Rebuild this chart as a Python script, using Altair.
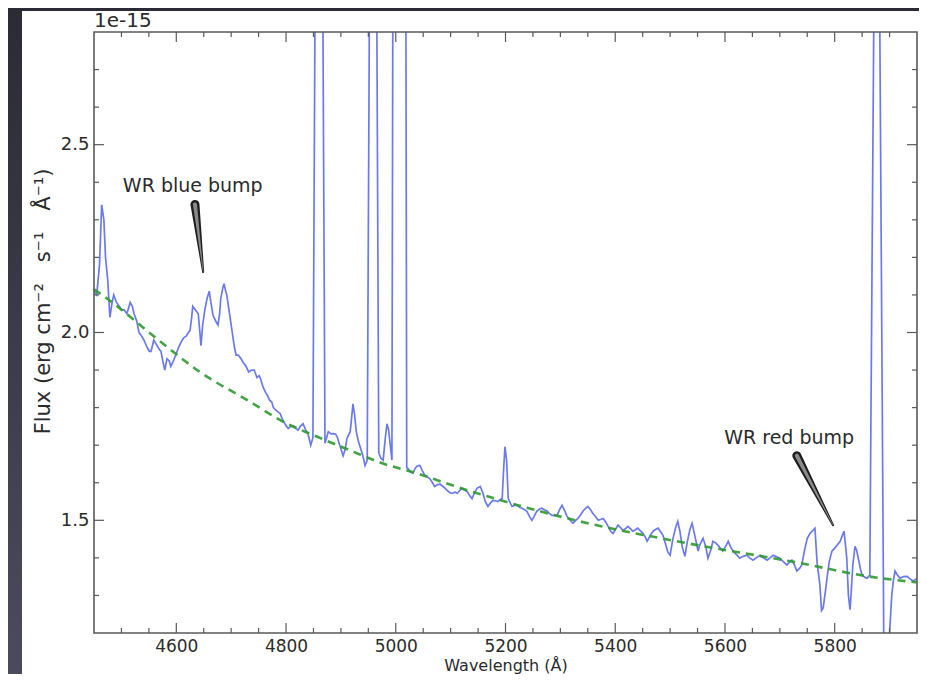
import altair as alt
import pandas as pd

# ---------------- data ----------------
lam = [4450, 4455, 4460, 4464, 4468, 4471, 4475, 4479, 4483, 4486, 4491, 4496, 4501, 4505, 4510,
       4516, 4520, 4523, 4528, 4532, 4537, 4541, 4547, 4551, 4554, 4559, 4565, 4569, 4572, 4576,
       4579, 4583, 4587, 4590, 4595, 4599, 4604, 4609, 4613, 4618, 4622, 4625, 4628, 4630, 4635,
       4640, 4643, 4645, 4648, 4652, 4656, 4660, 4663, 4667, 4672, 4676, 4679, 4681, 4685, 4687,
       4690, 4692, 4697, 4702, 4706, 4709, 4713, 4718, 4722, 4727, 4732, 4737, 4742, 4747, 4751,
       4754, 4758, 4763, 4767, 4770, 4774, 4777, 4780, 4784, 4789, 4793, 4798, 4801, 4804, 4809,
       4813, 4818, 4822, 4826, 4831, 4836, 4840, 4845, 4849, 4860, 4871, 4874, 4877, 4882, 4886,
       4890, 4893, 4898, 4904, 4908, 4911, 4915, 4917, 4920, 4922, 4925, 4928, 4932, 4935, 4940,
       4944, 4948, 4959, 4969, 4973, 4977, 4981, 4984, 4987, 4990, 4993, 5007, 5020, 5022, 5026,
       5031, 5036, 5040, 5044, 5049, 5053, 5058, 5062, 5067, 5071, 5076, 5081, 5086, 5090, 5095,
       5100, 5103, 5108, 5112, 5117, 5121, 5126, 5130, 5135, 5139, 5144, 5148, 5154, 5159, 5163,
       5168, 5172, 5177, 5182, 5186, 5190, 5194, 5196, 5199, 5202, 5205, 5209, 5212, 5217, 5221,
       5226, 5230, 5235, 5239, 5244, 5248, 5252, 5257, 5262, 5266, 5271, 5276, 5280, 5285, 5290,
       5294, 5299, 5303, 5308, 5312, 5318, 5323, 5328, 5332, 5337, 5341, 5346, 5350, 5355, 5359,
       5364, 5369, 5373, 5378, 5383, 5387, 5392, 5396, 5400, 5405, 5410, 5414, 5419, 5423, 5428,
       5432, 5437, 5441, 5446, 5450, 5455, 5458, 5464, 5469, 5474, 5478, 5482, 5487, 5491, 5496,
       5500, 5505, 5510, 5514, 5518, 5522, 5527, 5531, 5536, 5540, 5545, 5551, 5554, 5560, 5565,
       5569, 5574, 5578, 5583, 5587, 5592, 5596, 5601, 5606, 5610, 5615, 5620, 5627, 5633, 5640,
       5645, 5651, 5657, 5664, 5670, 5677, 5682, 5688, 5694, 5700, 5706, 5713, 5717, 5722, 5727,
       5731, 5736, 5740, 5745, 5750, 5755, 5759, 5764, 5768, 5773, 5776, 5779, 5783, 5786, 5790,
       5795, 5800, 5805, 5810, 5814, 5817, 5820, 5822, 5825, 5828, 5831, 5833, 5837, 5840, 5843,
       5847, 5850, 5855, 5859, 5864, 5877, 5890, 5895, 5900, 5904, 5907, 5910, 5914, 5919, 5925,
       5932, 5937, 5943, 5947, 5950]
flux = [2.11, 2.10, 2.18, 2.34, 2.30, 2.20, 2.14, 2.04, 2.08, 2.10, 2.08, 2.07, 2.06, 2.06, 2.05,
        2.08, 2.07, 2.05, 2.03, 2.00, 1.99, 1.98, 1.96, 1.95, 1.95, 1.98, 1.965, 1.955, 1.95, 1.92,
        1.90, 1.93, 1.925, 1.91, 1.925, 1.94, 1.96, 1.975, 1.985, 1.99, 2.00, 2.005, 2.04, 2.07, 2.06,
        2.05, 2.00, 1.965, 2.02, 2.06, 2.09, 2.11, 2.08, 2.045, 2.03, 2.02, 2.05, 2.09, 2.12, 2.13,
        2.11, 2.10, 2.05, 2.00, 1.96, 1.94, 1.94, 1.93, 1.92, 1.91, 1.895, 1.90, 1.90, 1.88, 1.885,
        1.875, 1.855, 1.84, 1.83, 1.82, 1.815, 1.80, 1.795, 1.79, 1.785, 1.77, 1.757, 1.75, 1.745, 1.75,
        1.752, 1.745, 1.74, 1.75, 1.757, 1.74, 1.73, 1.70, 1.72, 5.0, 1.705, 1.72, 1.736, 1.73, 1.731,
        1.73, 1.723, 1.70, 1.672, 1.69, 1.718, 1.73, 1.736, 1.78, 1.81, 1.78, 1.736, 1.71, 1.696, 1.672,
        1.646, 1.66, 5.0, 1.68, 1.665, 1.66, 1.72, 1.757, 1.74, 1.70, 1.66, 12.0, 1.64, 1.638, 1.63,
        1.625, 1.64, 1.645, 1.646, 1.63, 1.62, 1.615, 1.611, 1.60, 1.59, 1.595, 1.596, 1.59, 1.585, 1.578,
        1.572, 1.572, 1.575, 1.572, 1.58, 1.585, 1.58, 1.577, 1.565, 1.558, 1.575, 1.585, 1.59, 1.572, 1.55,
        1.537, 1.545, 1.553, 1.552, 1.55, 1.555, 1.558, 1.62, 1.696, 1.66, 1.558, 1.545, 1.537, 1.54, 1.54,
        1.535, 1.532, 1.528, 1.524, 1.51, 1.50, 1.51, 1.524, 1.53, 1.532, 1.528, 1.524, 1.518, 1.513, 1.513,
        1.513, 1.53, 1.54, 1.525, 1.511, 1.50, 1.492, 1.50, 1.505, 1.515, 1.524, 1.532, 1.537, 1.528, 1.519,
        1.51, 1.50, 1.502, 1.505, 1.495, 1.484, 1.47, 1.465, 1.475, 1.487, 1.48, 1.473, 1.478, 1.484, 1.477,
        1.471, 1.475, 1.479, 1.472, 1.466, 1.455, 1.444, 1.46, 1.471, 1.476, 1.479, 1.471, 1.46, 1.44, 1.415,
        1.407, 1.45, 1.48, 1.497, 1.47, 1.43, 1.404, 1.44, 1.475, 1.492, 1.46, 1.418, 1.434, 1.452, 1.43,
        1.399, 1.42, 1.444, 1.44, 1.434, 1.425, 1.418, 1.43, 1.444, 1.43, 1.418, 1.41, 1.399, 1.404, 1.407,
        1.40, 1.394, 1.40, 1.407, 1.40, 1.394, 1.40, 1.407, 1.403, 1.399, 1.39, 1.381, 1.388, 1.394, 1.38,
        1.365, 1.372, 1.381, 1.42, 1.452, 1.465, 1.471, 1.479, 1.386, 1.328, 1.26, 1.267, 1.31, 1.346, 1.39,
        1.418, 1.426, 1.435, 1.444, 1.46, 1.471, 1.43, 1.399, 1.30, 1.262, 1.33, 1.381, 1.431, 1.42, 1.399,
        1.37, 1.354, 1.348, 1.346, 1.354, 4.0, 1.05, 1.02, 1.20, 1.301, 1.34, 1.365, 1.355, 1.346, 1.35,
        1.351, 1.345, 1.338, 1.342, 1.346]

cont_lam = [4450, 4475, 4565, 4643, 4734, 4794, 4856, 4917, 4977, 5039, 5093, 5263, 5336, 5531, 5719, 5883, 5950]
cont_flux = [2.115, 2.089, 1.983, 1.895, 1.816, 1.763, 1.723, 1.686, 1.651, 1.625, 1.598, 1.524, 1.497, 1.439, 1.391, 1.346, 1.335]

x_major = [4600, 4800, 5000, 5200, 5400, 5600, 5800]
x_minor = [4500, 4550, 4650, 4700, 4750, 4850, 4900, 4950, 5050, 5100, 5150, 5250, 5300, 5350,
           5450, 5500, 5550, 5650, 5700, 5750, 5850, 5900]
y_major = [1.5, 2.0, 2.5]
y_minor = [1.3, 1.4, 1.6, 1.7, 1.8, 1.9, 2.1, 2.2, 2.3, 2.4, 2.6, 2.7]

ann_text = ["WR blue bump", "WR red bump"]
ann_text_lam = [4630, 5717]
ann_text_flux = [2.391, 1.718]
arrow_tail_lam = [4634, 5731]
arrow_tail_flux = [2.341, 1.672]
arrow_tip_lam = [4649, 5797]
arrow_tip_flux = [2.161, 1.487]

# ---------------- layout ----------------
W, H = 823, 601
PAD = {"left": 86, "top": 24, "right": 2, "bottom": 41}
FONT = "DejaVu Sans"
TXT = "#2b2b2b"
FRAME = "#5a5a5a"

xscale = alt.Scale(domain=[4450, 5950], nice=False, zero=False)
yscale = alt.Scale(domain=[1.2, 2.8], nice=False, zero=False)

X_AX = alt.Axis(values=x_major, format="d", title="Wavelength (Å)", grid=False, domain=False,
                ticks=False, tickSize=0, labelPadding=5, labelFontSize=17, labelFont=FONT,
                labelColor=TXT, titleFont=FONT, titleFontSize=16, titleFontWeight="normal",
                titleColor=TXT, titlePadding=3, labelFlush=False, zindex=2)
Y_AX = alt.Axis(values=y_major, format=".1f",
                title="Flux (erg cm⁻²\u2003s⁻¹\u2003Å⁻¹)", grid=False,
                domain=False, ticks=False, tickSize=0, labelPadding=5, labelFontSize=18,
                labelFont=FONT, labelColor=TXT, titleFont=FONT, titleFontSize=21,
                titleFontWeight="normal", titleColor=TXT, titlePadding=7, labelFlush=False,
                titleY=269, zindex=2)

one = pd.DataFrame({"k": [0]})

bg = alt.Chart(one).mark_rect(
    color=alt.LinearGradient(gradient="linear",
                             stops=[alt.GradientStop(color="#2b2b35", offset=0),
                                    alt.GradientStop(color="#4b4b5e", offset=1)],
                             x1=0, x2=0, y1=0, y2=1)
).encode(x=alt.value(-PAD["left"]), x2=alt.value(W + PAD["right"]),
         y=alt.value(-PAD["top"]), y2=alt.value(H + PAD["bottom"]))

panel = alt.Chart(one).mark_rect(color="white").encode(
    x=alt.value(-72), x2=alt.value(W + PAD["right"]),
    y=alt.value(-21), y2=alt.value(H + PAD["bottom"]))

spec_df = pd.DataFrame({"lam": lam, "flux": flux})
spec = alt.Chart(spec_df).mark_line(color="#5a6ceb", strokeWidth=1.7, clip=True, opacity=0.9).encode(
    x=alt.X("lam:Q", scale=xscale, axis=X_AX),
    y=alt.Y("flux:Q", scale=yscale, axis=Y_AX))

cont_df = pd.DataFrame({"lam": cont_lam, "flux": cont_flux})
cont = alt.Chart(cont_df).mark_line(color="#2f9a2f", strokeWidth=2.6, strokeDash=[8, 6],
                                    interpolate="monotone", opacity=0.9).encode(
    x=alt.X("lam:Q", scale=xscale, axis=X_AX),
    y=alt.Y("flux:Q", scale=yscale, axis=Y_AX))

frame = alt.Chart(one).mark_rect(filled=False, stroke=FRAME, strokeWidth=1.6).encode(
    x=alt.value(0), x2=alt.value(W), y=alt.value(0), y2=alt.value(H))

def xticks(vals, ln):
    d = pd.DataFrame({"t": vals})
    base = alt.Chart(d).mark_rule(color=FRAME, strokeWidth=1.2)
    b = base.encode(x=alt.X("t:Q", scale=xscale, axis=X_AX), y=alt.value(H), y2=alt.value(H - ln))
    t = base.encode(x=alt.X("t:Q", scale=xscale, axis=X_AX), y=alt.value(0), y2=alt.value(ln))
    return [b, t]

def yticks(vals, ln):
    d = pd.DataFrame({"t": vals})
    base = alt.Chart(d).mark_rule(color=FRAME, strokeWidth=1.2)
    l = base.encode(y=alt.Y("t:Q", scale=yscale, axis=Y_AX), x=alt.value(0), x2=alt.value(ln))
    r = base.encode(y=alt.Y("t:Q", scale=yscale, axis=Y_AX), x=alt.value(W), x2=alt.value(W - ln))
    return [l, r]

tick_layers = xticks(x_major, 10) + xticks(x_minor, 5) + yticks(y_major, 10) + yticks(y_minor, 5)

arr_rows = []
for i in range(len(ann_text)):
    arr_rows.append({"id": i, "k": 0, "lam": arrow_tail_lam[i], "flux": arrow_tail_flux[i], "w": 9})
    arr_rows.append({"id": i, "k": 1, "lam": arrow_tip_lam[i], "flux": arrow_tip_flux[i], "w": 2})
arr_df = pd.DataFrame(arr_rows)
arrow_outer = alt.Chart(arr_df).mark_trail(color="#1e1e1e").encode(
    x=alt.X("lam:Q", scale=xscale, axis=X_AX),
    y=alt.Y("flux:Q", scale=yscale, axis=Y_AX),
    detail="id:N", order="k:Q",
    size=alt.Size("w:Q", scale=alt.Scale(domain=[0, 10], range=[0, 10]), legend=None))
arr_df2 = arr_df.assign(w=[4, 0.5, 4, 0.5])
arrow_inner = alt.Chart(arr_df2).mark_trail(color="#8a8a8a").encode(
    x=alt.X("lam:Q", scale=xscale, axis=X_AX),
    y=alt.Y("flux:Q", scale=yscale, axis=Y_AX),
    detail="id:N", order="k:Q",
    size=alt.Size("w:Q", scale=alt.Scale(domain=[0, 10], range=[0, 10]), legend=None))

ann_df = pd.DataFrame({"txt": ann_text, "lam": ann_text_lam, "flux": ann_text_flux})
ann = alt.Chart(ann_df).mark_text(font=FONT, fontSize=19, color=TXT, align="center",
                                  baseline="middle").encode(
    x=alt.X("lam:Q", scale=xscale, axis=X_AX),
    y=alt.Y("flux:Q", scale=yscale, axis=Y_AX),
    text="txt:N")

exp_df = pd.DataFrame({"s": ["1e-15"]})
exp_txt = alt.Chart(exp_df).mark_text(font=FONT, fontSize=20, color=TXT, align="left",
                                      baseline="alphabetic").encode(
    x=alt.value(0), y=alt.value(-5), text="s:N")

chart = alt.layer(bg, panel, spec, cont, frame, *tick_layers, arrow_outer, arrow_inner, ann, exp_txt).properties(
    width=W, height=H, padding=PAD,
    autosize=alt.AutoSizeParams(type="none"),
    background="#3a3a48",
).configure_view(strokeWidth=0)

chart.save("out.html", embed_options={"renderer": "svg", "actions": False})
